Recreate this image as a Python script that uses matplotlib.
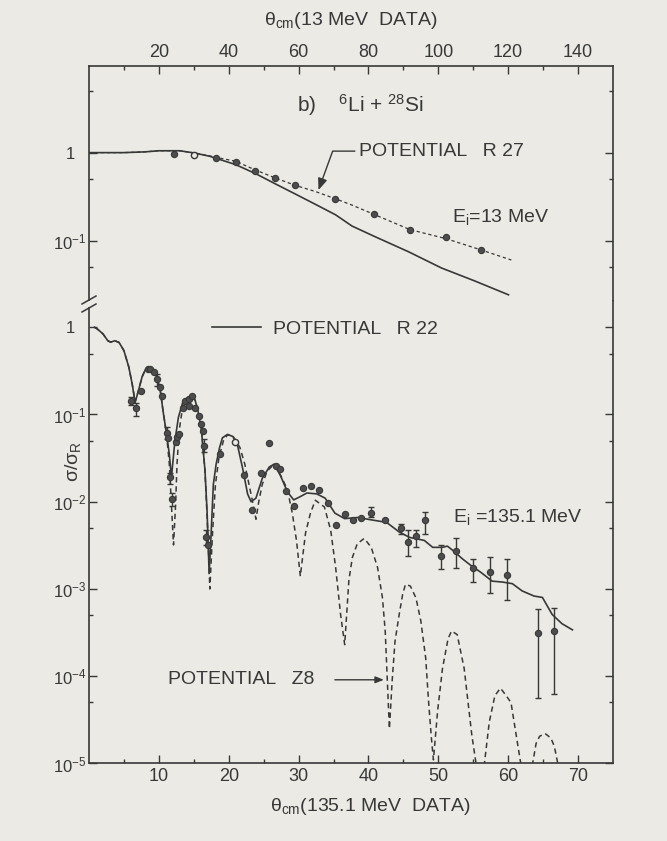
import numpy as np
import matplotlib.pyplot as plt
from matplotlib.lines import Line2D
from matplotlib.patches import Rectangle
from matplotlib.ticker import NullFormatter

plt.rcParams['font.family'] = ['Liberation Sans', 'DejaVu Sans']
plt.rcParams['mathtext.default'] = 'regular'

INK = '#383838'
PAPER = '#ebeae4'

# ---------------- 13 MeV (upper panel, top-axis angles) ----------------
theta_13 = [24.3, 36.3, 42.0, 47.5, 53.2, 59.0, 70.4, 81.5, 91.9, 102.2, 112.3]
sigma_13 = [0.97, 0.86, 0.785, 0.621, 0.513, 0.425, 0.295, 0.199, 0.133, 0.110, 0.077]
theta_13_open = [30.2]
sigma_13_open = [0.946]

theta_r22_13 = [0, 10, 16, 20, 26, 30.2, 34.5, 38.5, 42.0, 47.8, 53.5, 59.2, 64.9,
                70.6, 75.3, 82.0, 91.5, 100.9, 110.4, 120.1]
sigma_r22_13 = [1.0, 1.0, 1.02, 1.05, 1.05, 0.99, 0.91, 0.81, 0.73, 0.574, 0.438, 0.336,
                0.257, 0.196, 0.146, 0.110, 0.0744, 0.0487, 0.0347, 0.0241]

theta_r27_13 = [0, 10, 16, 20, 26, 30.2, 34.5, 38.5, 42.0, 47.5, 53.2, 59.0, 64.9, 70.4,
                75.3, 81.5, 91.9, 102.2, 112.3, 120.9]
sigma_r27_13 = [1.0, 1.0, 1.02, 1.05, 1.05, 0.99, 0.92, 0.85, 0.798, 0.638, 0.517, 0.425,
                0.36, 0.30, 0.253, 0.199, 0.133, 0.105, 0.078, 0.060]

# ---------------- 135.1 MeV (lower panel) ----------------
theta_135 = [6.0, 6.7, 7.4, 8.4, 8.8, 9.3, 9.8, 10.2, 10.5, 11.1, 11.3, 11.6, 11.9,
             12.4, 12.6, 12.9, 13.5, 13.8, 14.3, 14.8, 14.3, 15.2, 15.8, 16.1, 16.3,
             16.5, 16.7, 17.0, 18.7, 22.2, 23.4, 24.6, 25.7, 26.8, 27.3, 28.2, 29.4,
             30.6, 31.8, 32.9, 34.2, 35.4, 36.7, 37.8, 39.0, 40.3, 42.3, 44.6, 45.7,
             46.8, 48.1, 50.4, 52.6, 54.9, 57.4, 59.8, 64.2, 66.6]
sigma_135 = [0.144, 0.12, 0.187, 0.33, 0.33, 0.31, 0.255, 0.204, 0.164, 0.062, 0.054,
             0.019, 0.0107, 0.048, 0.055, 0.059, 0.12, 0.144, 0.150, 0.164, 0.126, 0.12,
             0.097, 0.078, 0.065, 0.044, 0.0039, 0.0032, 0.035, 0.0205, 0.0081, 0.0215,
             0.047, 0.026, 0.0235, 0.0132, 0.0089, 0.0145, 0.015, 0.0135, 0.0098, 0.0054,
             0.0073, 0.0061, 0.0065, 0.0075, 0.0061, 0.0050, 0.0035, 0.0040, 0.0061,
             0.0024, 0.0027, 0.00176, 0.00155, 0.00146, 0.00031, 0.00033]
sigma_135_lo = [0.130, 0.097, 0.187, 0.33, 0.33, 0.31, 0.214, 0.204, 0.164, 0.053, 0.054,
                0.0158, 0.0089, 0.048, 0.055, 0.059, 0.12, 0.144, 0.150, 0.164, 0.126, 0.12,
                0.097, 0.078, 0.065, 0.037, 0.0032, 0.0032, 0.035, 0.0205, 0.0081, 0.0215,
                0.047, 0.026, 0.0235, 0.0132, 0.0089, 0.0145, 0.015, 0.0135, 0.0098, 0.0054,
                0.0073, 0.0061, 0.0065, 0.0067, 0.0061, 0.0043, 0.0024, 0.0030, 0.0043,
                0.0017, 0.00174, 0.0012, 0.00089, 0.00074, 5.7e-5, 6.2e-5]
sigma_135_hi = [0.157, 0.137, 0.187, 0.33, 0.33, 0.31, 0.29, 0.204, 0.164, 0.071, 0.054,
                0.0216, 0.0126, 0.048, 0.055, 0.059, 0.12, 0.144, 0.150, 0.164, 0.126, 0.12,
                0.097, 0.078, 0.065, 0.052, 0.0047, 0.0032, 0.035, 0.0205, 0.0081, 0.0215,
                0.047, 0.026, 0.0235, 0.0132, 0.0089, 0.0145, 0.015, 0.0135, 0.0098, 0.0054,
                0.0073, 0.0061, 0.0065, 0.0088, 0.0061, 0.0056, 0.0047, 0.0047, 0.0077,
                0.0032, 0.0038, 0.0022, 0.0023, 0.0022, 0.00059, 0.00061]
theta_135_open = [20.9]
sigma_135_open = [0.048]

theta_r22 = [0.8, 1.2, 2.0, 2.7, 3.1, 3.7, 4.3, 5.0, 5.7, 6.2, 6.6, 7.1, 7.6, 8.1, 8.5,
             9.0, 9.7, 10.2, 10.6, 11.1, 11.5, 11.8, 12.3, 12.8, 13.5, 14.2, 14.7, 15.2,
             15.6, 16.1, 16.6, 16.9, 17.2, 17.5, 17.8, 18.2, 18.7, 19.1, 19.8, 20.6,
             21.3, 22.0, 22.7, 23.2, 23.9, 24.8, 25.8, 26.5, 27.4, 28.4, 29.3, 30.2,
             31.2, 32.6, 33.8, 35.2, 36.6, 38.5, 40.4, 42.6, 44.4, 45.9, 48.0, 49.2,
             50.6, 51.3, 52.0, 53.5, 54.9, 56.1, 57.7, 59.2, 60.6, 62.0, 63.7, 64.9,
             66.3, 67.7, 69.2]
sigma_r22 = [1.0, 0.955, 0.84, 0.70, 0.675, 0.70, 0.67, 0.54, 0.35, 0.22, 0.137, 0.19,
             0.27, 0.33, 0.35, 0.33, 0.27, 0.19, 0.11, 0.060, 0.035, 0.019, 0.050, 0.093,
             0.145, 0.158, 0.165, 0.145, 0.11, 0.066, 0.023, 0.0079, 0.0015, 0.0046,
             0.0158, 0.027, 0.042, 0.054, 0.059, 0.056, 0.043, 0.024, 0.0123, 0.0100,
             0.011, 0.0185, 0.025, 0.027, 0.020, 0.013, 0.0105, 0.0114, 0.0126, 0.0123,
             0.011, 0.0074, 0.0064, 0.0066, 0.0062, 0.0058, 0.0045, 0.0039, 0.0036,
             0.0030, 0.0030, 0.0031, 0.0028, 0.0022, 0.0018, 0.00155, 0.00123, 0.0012,
             0.00115, 0.00095, 0.00083, 0.00080, 0.00051, 0.00040, 0.00034]

theta_z8 = [0.8, 1.2, 2.0, 2.7, 3.1, 3.7, 4.3, 5.0, 5.7, 6.2, 6.6, 7.1, 7.6, 8.1, 8.5,
            9.0, 9.7, 10.2, 10.6, 11.1, 11.5, 11.8, 12.1, 12.4, 12.6, 12.9, 13.4, 14.2,
            14.7, 15.2, 15.6, 16.1, 16.6, 17.0, 17.3, 17.7, 18.1, 18.6, 19.3, 19.9,
            20.7, 21.6, 22.3, 23.0, 23.5, 23.9, 24.3, 24.8, 25.5, 26.5, 27.5, 28.4,
            29.1, 29.7, 30.25, 31.0, 31.7, 32.4, 33.7, 34.6, 35.3, 36.0, 36.6, 37.2,
            37.7, 38.4, 39.4, 40.4, 41.3, 42.0, 42.4, 42.7, 43.0, 43.4, 43.8, 44.4,
            44.9, 45.3, 46.0, 46.8, 47.5, 48.2, 48.6, 49.0, 49.3, 49.9, 50.6, 51.4,
            51.9, 52.7, 53.7, 54.8, 55.4, 56.0, 56.6, 57.3, 58.1, 58.9, 59.7, 60.4,
            61.8, 62.5, 63.1, 63.5, 64.0, 64.5, 65.3, 66.1, 66.6, 67.1, 67.3]
sigma_z8 = [1.0, 0.955, 0.84, 0.70, 0.675, 0.70, 0.67, 0.54, 0.35, 0.22, 0.14, 0.19,
            0.27, 0.33, 0.35, 0.33, 0.27, 0.19, 0.11, 0.060, 0.027, 0.0093, 0.0032,
            0.0093, 0.027, 0.065, 0.12, 0.158, 0.165, 0.145, 0.11, 0.066, 0.023, 0.0046,
            0.0010, 0.0046, 0.0158, 0.032, 0.052, 0.059, 0.055, 0.042, 0.027, 0.0145,
            0.0093, 0.0063, 0.010, 0.0158, 0.0224, 0.027, 0.0196, 0.0138, 0.0074, 0.0036,
            0.0014, 0.0044, 0.0074, 0.0104, 0.0087, 0.0047, 0.00178, 0.00052, 0.00023,
            0.00126, 0.0023, 0.0033, 0.0038, 0.0030, 0.00177, 0.0008, 0.00033, 9e-5,
            2.5e-5, 9e-5, 2.5e-4, 5.1e-4, 8.7e-4, 1.13e-3, 1.08e-3, 7.9e-4, 4.3e-4,
            1.6e-4, 5.2e-5, 2e-5, 1.1e-5, 4e-5, 1.23e-4, 2.7e-4, 3.3e-4, 3.0e-4, 1.23e-4,
            2.1e-5, 1e-5, 4e-6, 1e-5, 3.0e-5, 6.0e-5, 7.3e-5, 6e-5, 5e-5, 1e-5, 4e-6,
            5e-6, 1e-5, 1.7e-5, 2.05e-5, 2.2e-5, 1.96e-5, 1.58e-5, 1e-5, 7e-6]

fig = plt.figure(figsize=(6.67, 8.41), dpi=100, facecolor=PAPER)
ax_top = fig.add_axes([0.1334, 0.6421, 0.7856, 0.2800])
ax_bot = fig.add_axes([0.1334, 0.0922, 0.7856, 0.5499])

for ax in (ax_top, ax_bot):
    ax.set_facecolor(PAPER)
    ax.set_yscale('log')
    for sp in ax.spines.values():
        sp.set_color(INK)
        sp.set_linewidth(1.2)
    ax.yaxis.set_minor_formatter(NullFormatter())
ax_top.spines['bottom'].set_visible(False)
ax_bot.spines['top'].set_visible(False)

# upper panel: 13 MeV
ax_top.plot(theta_r22_13, sigma_r22_13, color=INK, lw=1.2)
ax_top.plot(theta_r27_13, sigma_r27_13, color=INK, lw=0.9, dashes=(2.6, 2.2))
ax_top.plot(theta_13, sigma_13, 'o', ms=4.5, mfc='#4d4d4d', mec=INK, mew=0.8, zorder=4)
ax_top.plot(theta_13_open, sigma_13_open, 'o', ms=4.5, mfc=PAPER, mec=INK, mew=1.0, zorder=4)

# lower panel: 135.1 MeV
r22_line, = ax_bot.plot(theta_r22, sigma_r22, color=INK, lw=1.2)
ax_bot.plot(theta_z8, sigma_z8, color=INK, lw=1.1, dashes=(3.5, 2.5))
th = np.array(theta_135)
s = np.array(sigma_135)
lo = np.array(sigma_135_lo)
hi = np.array(sigma_135_hi)
has_err = hi > lo
ax_bot.errorbar(th[has_err], s[has_err], yerr=[s[has_err] - lo[has_err], hi[has_err] - s[has_err]],
                fmt='none', ecolor=INK, elinewidth=1.0, capsize=2.2, capthick=1.0, zorder=3)
ax_bot.plot(th, s, 'o', ms=4.5, mfc='#4d4d4d', mec=INK, mew=0.8, zorder=4)
ax_bot.plot(theta_135_open, sigma_135_open, 'o', ms=4.5, mfc=PAPER, mec=INK, mew=1.0, zorder=4)

# axes, ticks
ax_top.set_xlim(0, 150)
ax_top.set_ylim(0.0205, 9.8)
ax_top.xaxis.tick_top()
ax_top.set_xticks(range(20, 141, 20))
ax_top.set_xticks(range(10, 150, 10), minor=True)
ax_top.set_yticks([0.1, 1], ['10$^{-1}$', '1'])
ax_top.set_yticks([0.05, 0.5, 5], minor=True)

ax_bot.set_xlim(0, 75)
ax_bot.set_ylim(1e-5, 2.0)
ax_bot.set_xticks(range(10, 71, 10))
ax_bot.set_xticks(range(5, 75, 5), minor=True)
ax_bot.set_yticks([1e-5, 1e-4, 1e-3, 1e-2, 1e-1, 1],
                  ['10$^{-5}$', '10$^{-4}$', '10$^{-3}$', '10$^{-2}$', '10$^{-1}$', '1'])
ax_bot.set_yticks([5e-5, 5e-4, 5e-3, 5e-2, 0.5], minor=True)

for ax in (ax_top, ax_bot):
    ax.tick_params(which='both', direction='in', color=INK, labelcolor=INK, width=1.0,
                   left=True, right=True)
    ax.tick_params(which='major', length=5.5)
    ax.tick_params(which='minor', length=3)
    ax.tick_params(axis='y', labelsize=12, pad=2)
    ax.tick_params(axis='x', labelsize=13, pad=3)
ax_top.tick_params(axis='x', which='both', top=True, bottom=False)
ax_bot.tick_params(axis='x', which='both', top=False, bottom=True)
for ax in (ax_top, ax_bot):
    ax.yaxis.get_major_ticks()[-1].set_pad(10)

# labels and annotations
fig.text(0.526, 0.976, 'θ$_{cm}$(13 MeV  DATA)', ha='center', va='center', fontsize=14, color=INK)
fig.text(0.555, 0.0416, 'θ$_{cm}$(135.1 MeV  DATA)', ha='center', va='center', fontsize=14, color=INK)
fig.text(0.109, 0.451, 'σ/σ$_R$', rotation=90, ha='center', va='center', fontsize=14, color=INK)
fig.text(0.541, 0.8668, 'b)    $^{6}$Li + $^{28}$Si', ha='center', va='baseline', fontsize=15, color=INK)

ax_top.annotate('POTENTIAL   R 27', xy=(65.7, 0.375), xytext=(77.3, 1.04),
                ha='left', va='center', fontsize=14, color=INK,
                arrowprops=dict(arrowstyle='-|>,head_length=0.5,head_width=0.2', color=INK, lw=1.0,
                                connectionstyle='angle,angleA=0,angleB=70,rad=0',
                                relpos=(0, 0.5), shrinkA=1, shrinkB=0))
ax_top.text(103.8, 0.185, 'E$_i$=13 MeV', ha='left', va='center', fontsize=14, color=INK)

ax_bot.text(52.1, 0.0066, 'E$_i$ =135.1 MeV', ha='left', va='center', fontsize=14, color=INK)
ax_bot.text(11.3, 9.1e-5, 'POTENTIAL   Z8', ha='left', va='center', fontsize=14, color=INK)
ax_bot.annotate('', xy=(42.2, 9.1e-5), xytext=(35.2, 9.1e-5),
                arrowprops=dict(arrowstyle='-|>,head_length=0.5,head_width=0.2', color=INK, lw=1.0,
                                shrinkA=0, shrinkB=0))
ax_bot.legend([r22_line], ['POTENTIAL   R 22'], loc='center left',
              bbox_to_anchor=(212 / 667, 1 - 329 / 841), bbox_transform=fig.transFigure,
              frameon=False, fontsize=14, handlelength=2.5, handletextpad=0.65,
              borderpad=0, borderaxespad=0, labelcolor=INK)

# axis break on the left spine
fig.add_artist(Rectangle((86 / 667, 1 - 307 / 841), 6 / 667, 6 / 841, transform=fig.transFigure,
                         facecolor=PAPER, edgecolor='none', zorder=5))
for y0 in (304, 312):
    fig.add_artist(Line2D([82 / 667, 96 / 667], [1 - y0 / 841, 1 - (y0 - 8) / 841],
                          transform=fig.transFigure, color=INK, lw=1.1, zorder=6))

fig.savefig('out.png', dpi=100, facecolor=PAPER)
